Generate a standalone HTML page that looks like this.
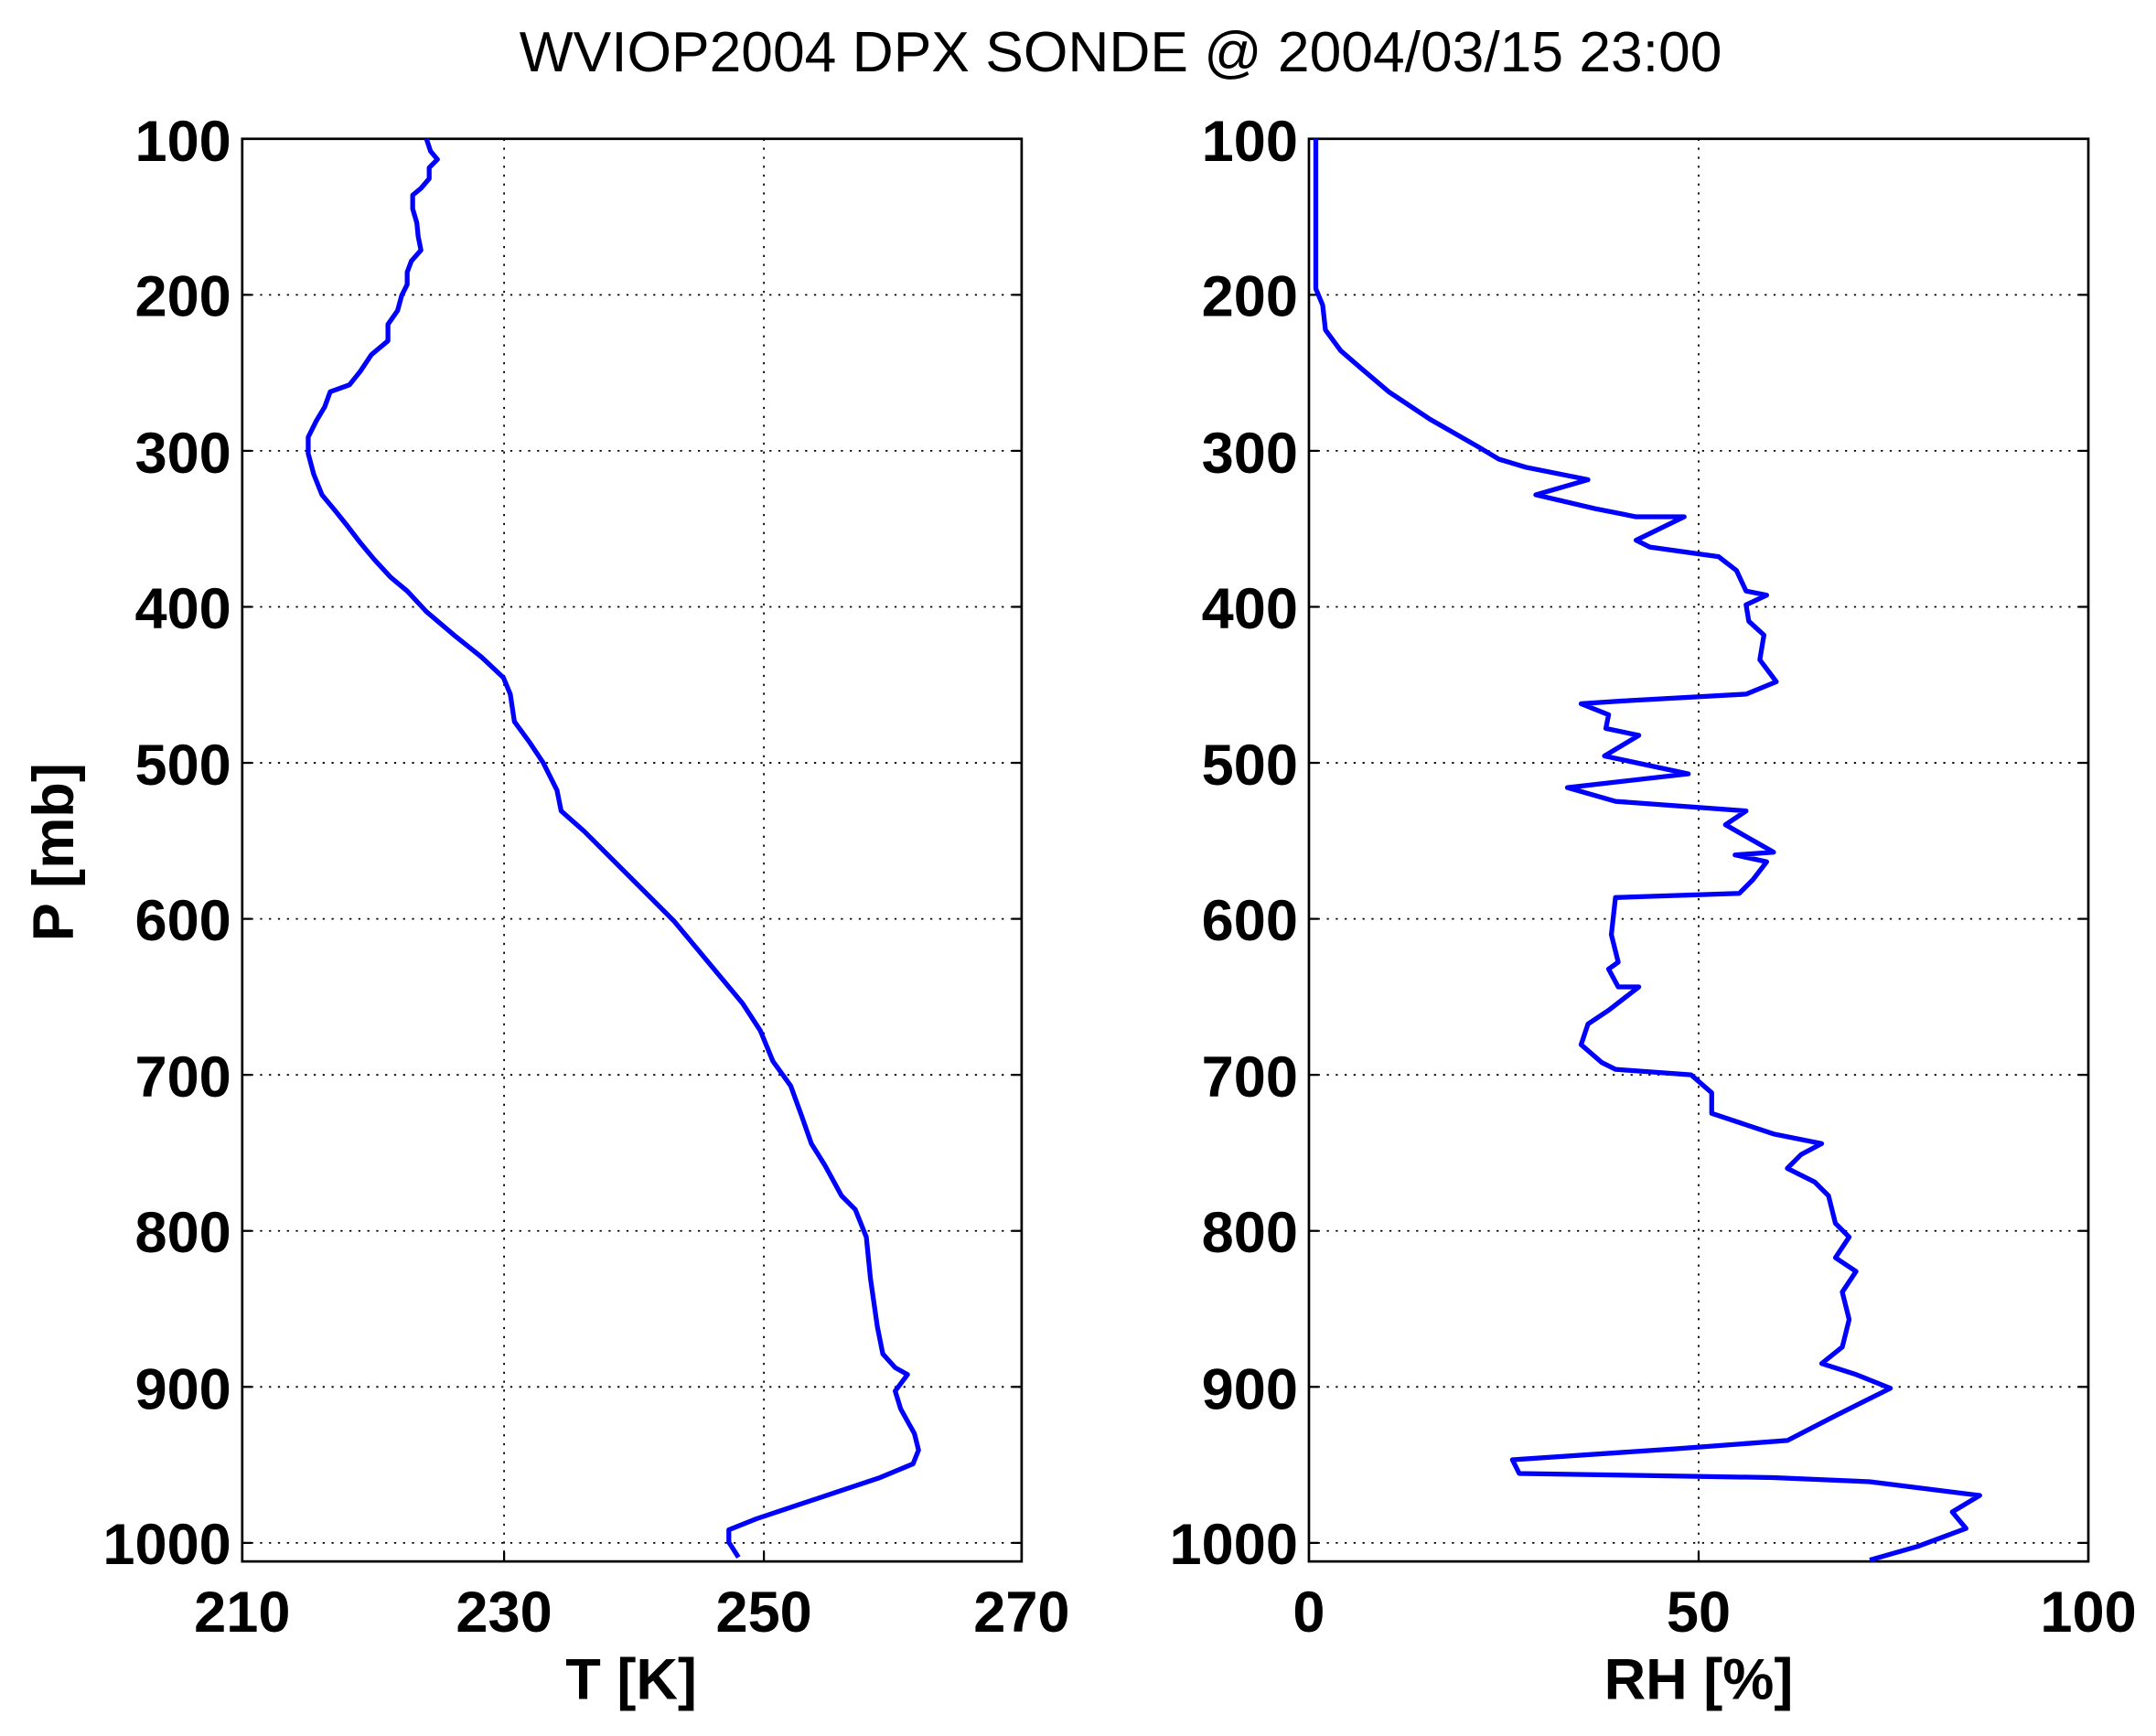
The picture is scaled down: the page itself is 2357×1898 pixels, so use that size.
<!DOCTYPE html>
<html><head><meta charset="utf-8"><style>
html,body{margin:0;padding:0;background:#fff;}
svg{display:block;}
text{font-family:"Liberation Sans",Arial,sans-serif;}
.t{font-weight:bold;font-size:42px;}
.g{stroke:#000;stroke-width:1.2;stroke-dasharray:1.5 5;fill:none;}
</style></head><body>
<svg width="2357" height="1898" viewBox="0 0 1568 1263" xmlns="http://www.w3.org/2000/svg">
<rect width="1568" height="1263" fill="#fff"/>
<text x="815" y="52" font-size="41.5" text-anchor="middle">WVIOP2004 DPX SONDE @ 2004/03/15 23:00</text>

<!-- left axes -->
<g class="g">
<line x1="366.5" y1="101" x2="366.5" y2="1136"/><line x1="555.5" y1="101" x2="555.5" y2="1136"/>
<line x1="176" y1="214.5" x2="743" y2="214.5"/><line x1="176" y1="328" x2="743" y2="328"/><line x1="176" y1="441.5" x2="743" y2="441.5"/>
<line x1="176" y1="555" x2="743" y2="555"/><line x1="176" y1="668.5" x2="743" y2="668.5"/><line x1="176" y1="782" x2="743" y2="782"/>
<line x1="176" y1="895.5" x2="743" y2="895.5"/><line x1="176" y1="1009" x2="743" y2="1009"/><line x1="176" y1="1122.5" x2="743" y2="1122.5"/>
</g>
<g stroke="#000" stroke-width="1.5">
<line x1="176" y1="214.5" x2="183" y2="214.5"/><line x1="736" y1="214.5" x2="743" y2="214.5"/>
<line x1="176" y1="328" x2="183" y2="328"/><line x1="736" y1="328" x2="743" y2="328"/>
<line x1="176" y1="441.5" x2="183" y2="441.5"/><line x1="736" y1="441.5" x2="743" y2="441.5"/>
<line x1="176" y1="555" x2="183" y2="555"/><line x1="736" y1="555" x2="743" y2="555"/>
<line x1="176" y1="668.5" x2="183" y2="668.5"/><line x1="736" y1="668.5" x2="743" y2="668.5"/>
<line x1="176" y1="782" x2="183" y2="782"/><line x1="736" y1="782" x2="743" y2="782"/>
<line x1="176" y1="895.5" x2="183" y2="895.5"/><line x1="736" y1="895.5" x2="743" y2="895.5"/>
<line x1="176" y1="1009" x2="183" y2="1009"/><line x1="736" y1="1009" x2="743" y2="1009"/>
<line x1="176" y1="1122.5" x2="183" y2="1122.5"/><line x1="736" y1="1122.5" x2="743" y2="1122.5"/>
<line x1="366.5" y1="1136" x2="366.5" y2="1129"/><line x1="555.5" y1="1136" x2="555.5" y2="1129"/>
</g>
<rect x="176" y="101" width="567" height="1035" fill="none" stroke="#000" stroke-width="1.8"/>
<polyline fill="none" stroke="#0000ff" stroke-width="3.5" stroke-linejoin="round" points="
310,101 313,110 318,116 312,122 312,130 306,137 300,142 300,152 303,162 304,172 306,182 299,190 296,198 296,207 292,215 289,226 282,236 282,248 270,258 262,270 254,280 240,285 236,296 230,306 224,318 224,330 228,345 234,360 244,372 252,382 262,395 272,407 284,420 296,430 310,445 330,462 350,478 366,493 371,505 374,525 385,540 395,555 405,575 408,590 425,605 445,625 465,645 490,670 515,700 540,730 553,750 562,772 575,790 583,812 590,832 600,848 612,870 622,880 630,900 633,930 638,965 642,985 651,995 660,1000 651,1012 655,1025 665,1043 668,1055 664,1065 640,1075 610,1085 580,1095 550,1105 530,1113 530,1122 537,1133"/>

<!-- right axes -->
<g class="g">
<line x1="1235.5" y1="101" x2="1235.5" y2="1136"/>
<line x1="952" y1="214.5" x2="1519" y2="214.5"/><line x1="952" y1="328" x2="1519" y2="328"/><line x1="952" y1="441.5" x2="1519" y2="441.5"/>
<line x1="952" y1="555" x2="1519" y2="555"/><line x1="952" y1="668.5" x2="1519" y2="668.5"/><line x1="952" y1="782" x2="1519" y2="782"/>
<line x1="952" y1="895.5" x2="1519" y2="895.5"/><line x1="952" y1="1009" x2="1519" y2="1009"/><line x1="952" y1="1122.5" x2="1519" y2="1122.5"/>
</g>
<g stroke="#000" stroke-width="1.5">
<line x1="952" y1="214.5" x2="959" y2="214.5"/><line x1="1512" y1="214.5" x2="1519" y2="214.5"/>
<line x1="952" y1="328" x2="959" y2="328"/><line x1="1512" y1="328" x2="1519" y2="328"/>
<line x1="952" y1="441.5" x2="959" y2="441.5"/><line x1="1512" y1="441.5" x2="1519" y2="441.5"/>
<line x1="952" y1="555" x2="959" y2="555"/><line x1="1512" y1="555" x2="1519" y2="555"/>
<line x1="952" y1="668.5" x2="959" y2="668.5"/><line x1="1512" y1="668.5" x2="1519" y2="668.5"/>
<line x1="952" y1="782" x2="959" y2="782"/><line x1="1512" y1="782" x2="1519" y2="782"/>
<line x1="952" y1="895.5" x2="959" y2="895.5"/><line x1="1512" y1="895.5" x2="1519" y2="895.5"/>
<line x1="952" y1="1009" x2="959" y2="1009"/><line x1="1512" y1="1009" x2="1519" y2="1009"/>
<line x1="952" y1="1122.5" x2="959" y2="1122.5"/><line x1="1512" y1="1122.5" x2="1519" y2="1122.5"/>
<line x1="1235.5" y1="1136" x2="1235.5" y2="1129"/>
</g>
<rect x="952" y="101" width="567" height="1035" fill="none" stroke="#000" stroke-width="1.8"/>
<polyline fill="none" stroke="#0000ff" stroke-width="3.5" stroke-linejoin="round" points="
957,101 957,210 962,222 964,240 975,255 990,268 1010,285 1040,305 1075,325 1090,334 1110,340 1155,349 1117,360 1160,370 1190,376 1225,376 1190,393 1200,398 1250,405 1263,415 1270,430 1285,433 1270,440 1272,452 1283,462 1280,480 1292,496 1270,505 1180,510 1150,512 1170,520 1168,530 1192,535 1167,550 1228,563 1140,573 1175,583 1270,590 1255,600 1290,620 1262,622 1285,627 1275,640 1265,650 1175,653 1172,680 1177,700 1170,705 1177,718 1192,718 1170,735 1155,745 1150,760 1165,773 1175,778 1230,782 1245,795 1245,810 1290,825 1325,832 1310,840 1300,850 1320,860 1330,870 1335,890 1345,900 1335,915 1350,925 1340,940 1345,960 1340,980 1325,992 1350,1000 1375,1010 1335,1030 1300,1048 1220,1054 1100,1062 1105,1072 1290,1075 1360,1078 1440,1088 1420,1100 1430,1112 1395,1125 1360,1135"/>

<!-- tick labels -->
<g class="t" text-anchor="end">
<text x="168" y="117">100</text><text x="168" y="230">200</text><text x="168" y="344">300</text>
<text x="168" y="457">400</text><text x="168" y="571">500</text><text x="168" y="684">600</text>
<text x="168" y="798">700</text><text x="168" y="911">800</text><text x="168" y="1025">900</text>
<text x="168" y="1138">1000</text>
<text x="944" y="117">100</text><text x="944" y="230">200</text><text x="944" y="344">300</text>
<text x="944" y="457">400</text><text x="944" y="571">500</text><text x="944" y="684">600</text>
<text x="944" y="798">700</text><text x="944" y="911">800</text><text x="944" y="1025">900</text>
<text x="944" y="1138">1000</text>
</g>
<g class="t" text-anchor="middle">
<text x="176" y="1187">210</text><text x="366.5" y="1187">230</text><text x="555.5" y="1187">250</text><text x="743" y="1187">270</text>
<text x="952" y="1187">0</text><text x="1235.5" y="1187">50</text><text x="1519" y="1187">100</text>
<text x="459" y="1236">T [K]</text><text x="1235.5" y="1236">RH [%]</text>
</g>
<text class="t" transform="translate(53,620) rotate(-90)" text-anchor="middle">P [mb]</text>
</svg>
</body></html>
